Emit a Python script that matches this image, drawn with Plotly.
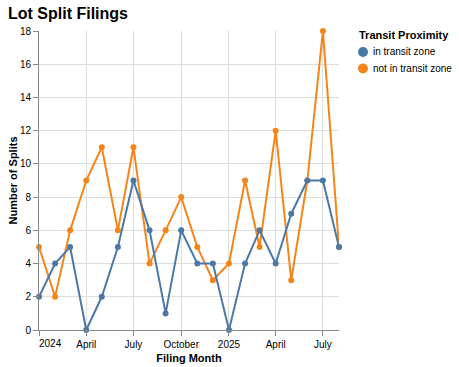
import plotly.graph_objects as go

months = ["2024-01-01","2024-02-01","2024-03-01","2024-04-01","2024-05-01","2024-06-01",
          "2024-07-01","2024-08-01","2024-09-01","2024-10-01","2024-11-01","2024-12-01",
          "2025-01-01","2025-02-01","2025-03-01","2025-04-01","2025-05-01","2025-06-01",
          "2025-07-01","2025-08-01"]
in_transit = [2,4,5,0,2,5,9,6,1,6,4,4,0,4,6,4,7,9,9,5]
not_in_transit = [5,2,6,9,11,6,11,4,6,8,5,3,4,9,5,12,3,9,18,5]
series_names = ["in transit zone", "not in transit zone"]
colors = ["#4c78a8", "#f58518"]
tick_vals = ["2024-01-01","2024-04-01","2024-07-01","2024-10-01","2025-01-01","2025-04-01","2025-07-01"]
tick_text = ["2024","April","July","October","2025","April","July"]

FONT = "Liberation Sans, Arial, sans-serif"
W, H = 459, 367
ML, MT, MR, MB = 39, 31, 120, 37
PW, PH = W - ML - MR, H - MT - MB

def px(x):
    return (x - ML) / PW

def py(y):
    return 1 - (y - MT) / PH

fig = go.Figure()
# draw orange first so blue sits on top where overlapping
for vals, name, col in [(not_in_transit, series_names[1], colors[1]), (in_transit, series_names[0], colors[0])]:
    fig.add_trace(go.Scatter(x=months, y=vals, mode="lines+markers", name=name,
                             line=dict(color=col, width=2), marker=dict(color=col, size=6),
                             cliponaxis=False, showlegend=False))

fig.update_layout(
    width=W, height=H,
    margin=dict(l=ML, r=MR, t=MT, b=MB, pad=0, autoexpand=False),
    paper_bgcolor="white", plot_bgcolor="white",
    font=dict(family=FONT, size=10, color="#000"),
    title=dict(text="<b>Lot Split Filings</b>", x=8 / W, xanchor="left", y=1 - 13 / H, yanchor="middle",
               font=dict(size=16, color="#000")),
    showlegend=False,
    xaxis=dict(range=["2024-01-01","2025-08-01"], tickvals=tick_vals, automargin=False,
               ticktext=[""] + tick_text[1:], showgrid=True, gridcolor="#ddd", gridwidth=1,
               showline=True, linecolor="#888", linewidth=1, ticks="outside", ticklen=5, tickcolor="#888",
               zeroline=False, tickfont=dict(size=10),
               title=dict(text="<b>Filing Month</b>", font=dict(size=11), standoff=5)),
    yaxis=dict(range=[0,18], tickvals=list(range(0,19,2)), showgrid=True, gridcolor="#ddd", automargin=False,
               showline=True, linecolor="#888", linewidth=1, ticks="outside", ticklen=5, tickcolor="#888",
               zeroline=False, tickfont=dict(size=10),
               title=dict(text="<b>Number of Splits</b>", font=dict(size=11), standoff=0)),
)
fig.add_annotation(x=tick_vals[0], y=0, xref="x", yref="paper", text=tick_text[0], showarrow=False,
                   xanchor="left", yanchor="top", yshift=-6, xshift=-2, font=dict(size=10, color="#000"))

# legend (drawn manually to match layout)
fig.add_annotation(x=px(357), y=py(35), xref="paper", yref="paper", text="<b>Transit Proximity</b>",
                   showarrow=False, xanchor="left", yanchor="middle", font=dict(size=11, color="#000"))
for i, (name, col) in enumerate(zip(series_names, colors)):
    cy = 52 + i * 16.5
    fig.add_shape(type="circle", xref="paper", yref="paper", xsizemode="pixel", ysizemode="pixel",
                  xanchor=px(363), yanchor=py(cy), x0=-5, x1=5, y0=-5, y1=5,
                  fillcolor=col, line=dict(width=0))
    fig.add_annotation(x=px(371), y=py(cy), xref="paper", yref="paper", text=name, showarrow=False,
                       xanchor="left", yanchor="middle", font=dict(size=10, color="#000"))

fig.write_html("out.html", config={"displayModeBar": False},
               post_script="document.body.style.margin='0';")
